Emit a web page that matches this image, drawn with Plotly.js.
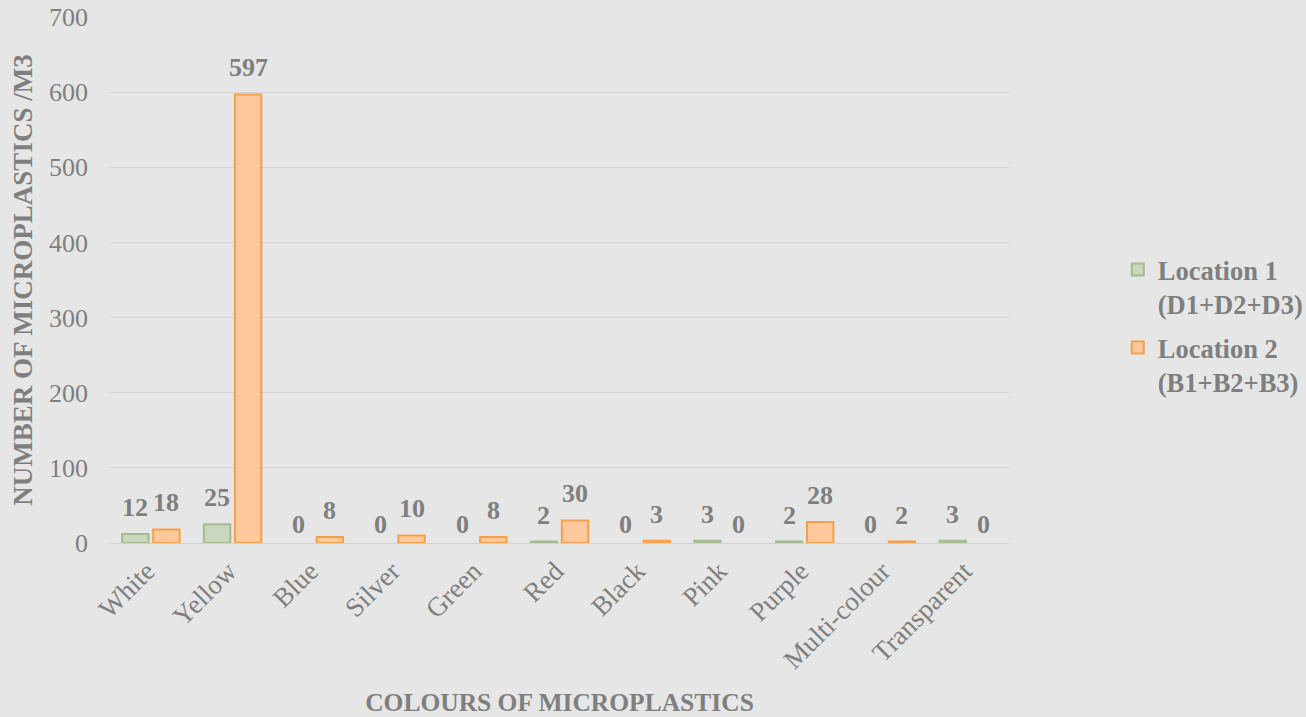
<!DOCTYPE html>
<html>
<head>
<meta charset="utf-8">
<script src="https://cdn.plot.ly/plotly-3.0.1.min.js"></script>
<style>
  html, body { margin: 0; padding: 0; background: #e6e6e6; }
  #chart { width: 1306px; height: 717px; }
</style>
</head>
<body>
<div id="chart"></div>
<script>
// Microplastic counts per m3, grouped by colour, for the two sampling locations
const colours = ['White', 'Yellow', 'Blue', 'Silver', 'Green', 'Red', 'Black', 'Pink', 'Purple', 'Multi-colour', 'Transparent'];
const location1 = [12, 25, 0, 0, 0, 2, 0, 3, 2, 0, 3];
const location2 = [18, 597, 8, 10, 8, 30, 3, 0, 28, 2, 0];
const seriesNames = ['Location 1<br>(D1+D2+D3)', 'Location 2<br>(B1+B2+B3)'];

const textGrey = '#7f7f7f';
const serif = 'Liberation Serif, Times New Roman, serif';

const W = 1306, H = 717;
const margin = { l: 110, r: 297, t: 17, b: 174, autoexpand: false };
const bargap = 0.24;
const bargroupgap = 0.15;

function barTrace(values, name, fill, edge) {
  return {
    type: 'bar',
    x: colours,
    y: values,
    name: name,
    legendgroup: name,
    marker: {
      color: fill,
      line: { color: edge, width: values.map(v => (v === 0 ? 0 : 2)) }
    },
    hoverinfo: 'x+y'
  };
}

const data = [
  barTrace(location1, seriesNames[0], '#c9d7bd', '#a6bb92'),
  barTrace(location2, seriesNames[1], '#fdc89c', '#f3a04b')
];

// value labels above each bar, shifted sideways onto its slot in the group
const slotPx = (W - margin.l - margin.r) / colours.length;
const barOffset = slotPx * (1 - bargap) / 4;
const labelFont = { family: serif, size: 26, color: textGrey, weight: 'bold' };
const annotations = [];
[location1, location2].forEach((values, s) => {
  values.forEach((v, i) => {
    annotations.push({
      x: colours[i],
      y: v,
      xref: 'x',
      yref: 'y',
      text: String(v),
      showarrow: false,
      xanchor: 'center',
      yanchor: 'bottom',
      xshift: (s === 0 ? -1 : 1) * barOffset,
      yshift: v === 0 ? 2 : 10,
      font: labelFont
    });
  });
});

const layout = {
  width: W,
  height: H,
  margin: margin,
  paper_bgcolor: '#e6e6e6',
  plot_bgcolor: '#e6e6e6',
  barmode: 'group',
  bargap: bargap,
  bargroupgap: bargroupgap,
  font: { family: serif, color: textGrey },
  annotations: annotations,
  xaxis: {
    type: 'category',
    tickangle: -45,
    tickfont: { family: serif, size: 27, color: textGrey },
    ticklabelstandoff: 6,
    ticklabelshift: -4,
    showgrid: false,
    showline: false,
    ticks: '',
    automargin: false,
    title: {
      text: 'COLOURS OF MICROPLASTICS',
      font: { family: serif, size: 25.5, color: textGrey, weight: 'bold' },
      standoff: 22
    }
  },
  yaxis: {
    range: [0, 700],
    dtick: 100,
    showgrid: true,
    gridcolor: '#d2d2d2',
    gridwidth: 1,
    zeroline: true,
    zerolinecolor: '#d2d2d2',
    zerolinewidth: 1,
    showline: false,
    ticks: '',
    ticklabelstandoff: 21,
    tickfont: { family: serif, size: 26, color: textGrey },
    automargin: false,
    title: {
      text: 'NUMBER OF MICROPLASTICS /M3',
      font: { family: serif, size: 27, color: textGrey, weight: 'bold' },
      standoff: 8
    }
  },
  legend: {
    x: 1.121,
    y: 0.565,
    xanchor: 'left',
    yanchor: 'top',
    valign: 'top',
    bgcolor: 'rgba(0,0,0,0)',
    font: { family: serif, size: 26.5, color: textGrey, weight: 'bold' },
    itemwidth: 30,
    tracegroupgap: 6
  },
  showlegend: true
};

Plotly.newPlot('chart', data, layout, { displayModeBar: false, staticPlot: true });
</script>
</body>
</html>
